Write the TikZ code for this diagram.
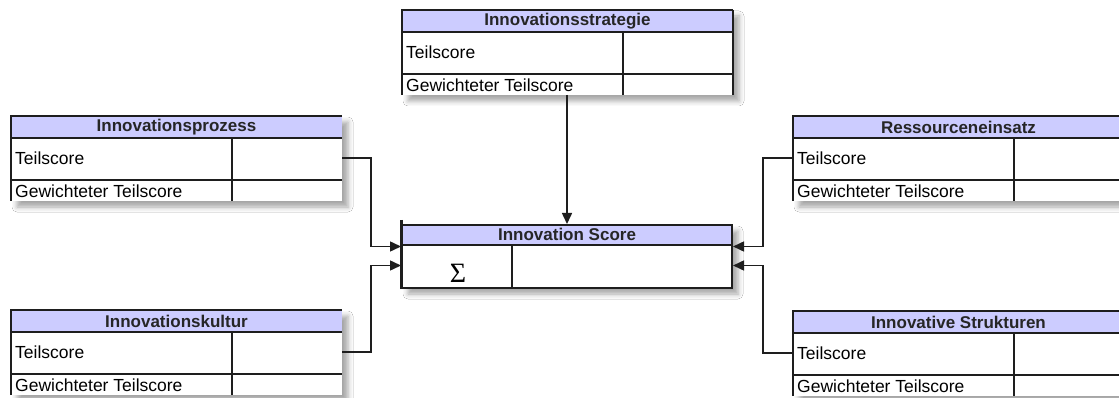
\documentclass[tikz,border=0pt]{standalone}
\usepackage{fontspec}
\setmainfont{Liberation Sans}
\newfontfamily\sigmafont{Liberation Serif}
\usetikzlibrary{arrows.meta, shadows.blur}

\definecolor{headblue}{RGB}{204,204,255}
\definecolor{gridline}{RGB}{30,30,30}

% one partial score table: name, x, y (top left corner), title
\newcommand{\scoretable}[4]{%
  \begin{scope}[shift={(#2,#3)}]
    \fill[white, tabshadow] (0,0) rectangle (331,85);
    \fill[headblue] (0,0) rectangle (331,22);
    \node[tabhead] (#1) at (165.5,11) {#4};
    \node[rowtext] (#1-ts) at (4,42) {Teilscore};
    \node[rowtext] (#1-gw) at (4,75) {Gewichteter Teilscore};
    \coordinate (#1-in)   at (0,42);
    \coordinate (#1-out)  at (331,42);
    \coordinate (#1-down) at (165,85);
    \coordinate (#1-ne)   at (331,0);
    \coordinate (#1-se)   at (331,85);
    \draw[grid] (331,0) -- (0,0) -- (0,85);
    \draw[grid] (0,22) -- (331,22);
    \draw[grid] (0,64) -- (331,64);
    \draw[grid] (221,22) -- (221,85);
  \end{scope}}

\begin{document}
\begin{tikzpicture}[x=1pt, y=-1pt,
    tabhead/.style={inner sep=0pt, font=\fontsize{17}{20}\selectfont\bfseries, text=black!85},
    rowtext/.style={anchor=west, inner sep=0pt, font=\fontsize{17.5}{20}\selectfont},
    grid/.style={draw=gridline, line width=1.5pt},
    tabshadow/.style={blur shadow={shadow xshift=6pt, shadow yshift=-6pt,
                      shadow blur radius=5pt, shadow opacity=35}},
    scorebox/.style={draw=gridline, line width=2pt, fill=white, inner sep=0pt,
                     minimum width=330pt, minimum height=63pt, tabshadow,
                     path picture={\fill[headblue] (path picture bounding box.north west)
                       rectangle ([yshift=-21pt]path picture bounding box.north east);}},
    conn/.style={draw=gridline, line width=1.5pt, -{Triangle[length=11pt, width=10pt]}}
]
\clip (0,0) rectangle (1119,398);
\fill[white] (0,0) rectangle (1119,398);

\scoretable{strategie}{402}{10}{Innovationsstrategie}
\draw[grid] (strategie-ne) -- (strategie-se);
\scoretable{prozess}{11}{116}{Innovationsprozess}
\scoretable{kultur}{11}{310}{Innovationskultur}
\scoretable{ressourcen}{793}{116}{Ressourceneinsatz}
\scoretable{strukturen}{793}{311}{Innovative Strukturen}

% summary box in the middle
\node[scorebox] (score) at (567,256.5) {};
\node[tabhead] (score-head) at ([yshift=-10.5pt]score.north) {Innovation Score};
\draw[grid] ([yshift=-21pt]score.north west) -- ([yshift=-21pt]score.north east);
\draw[grid] ([xshift=111pt, yshift=-21pt]score.north west) -- ([xshift=111pt]score.south west);
\draw[gridline, line width=3pt] ([yshift=4pt]score.north west) -- (score.south west);
\node[font=\sigmafont\fontsize{28}{30}\selectfont, inner sep=0pt] (sigma) at ([xshift=57pt, yshift=16pt]score.south west) {Σ};

\draw[conn] (strategie-down) -- (strategie-down |- score.north);
\draw[conn] (prozess-out) -- ++(29,0) |- ([yshift=10pt]score.west);
\draw[conn] (kultur-out) -- ++(29,0) |- ([yshift=-9pt]score.west);
\draw[conn] (ressourcen-in) -- ++(-30,0) |- ([yshift=10pt]score.east);
\draw[conn] (strukturen-in) -- ++(-30,0) |- ([yshift=-9pt]score.east);
\end{tikzpicture}
\end{document}
